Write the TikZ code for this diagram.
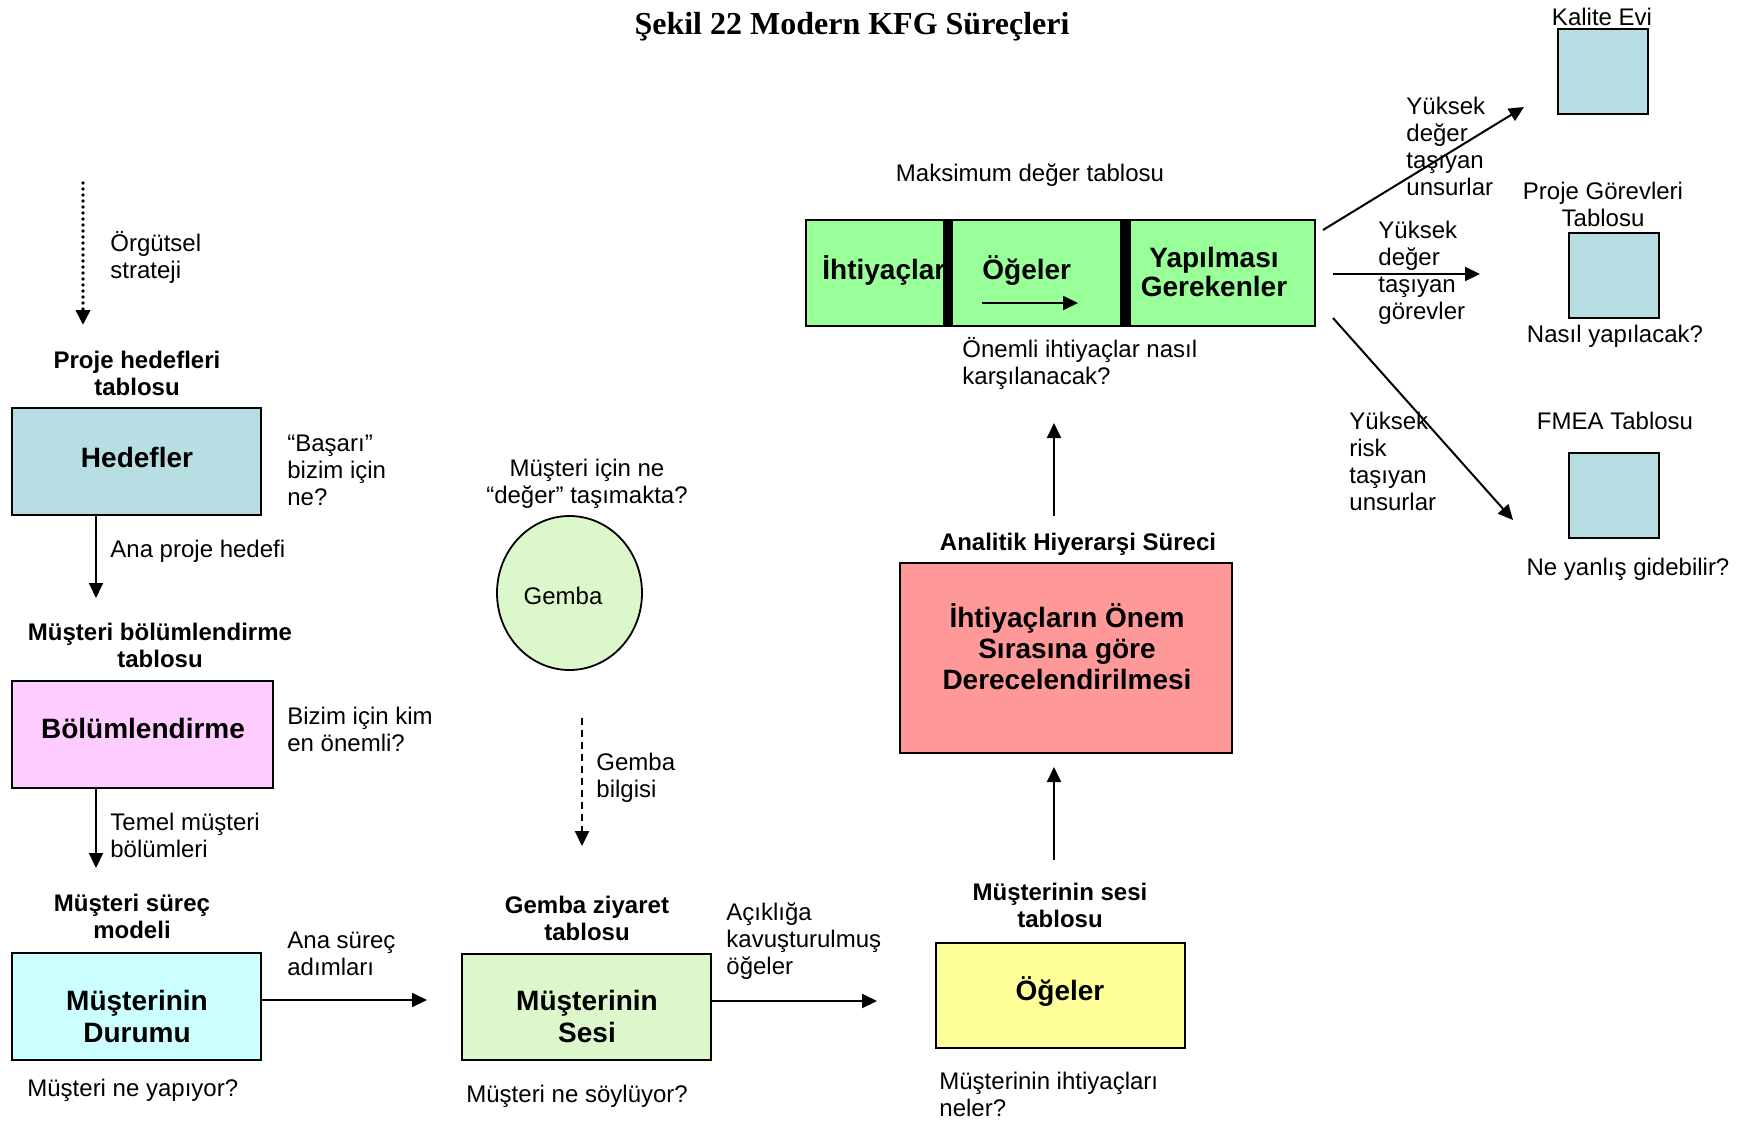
\documentclass[tikz,border=0pt]{standalone}
\usepackage{fontspec}
\setmainfont{Liberation Sans}
\newfontfamily\titlefont{Liberation Serif}
\usetikzlibrary{arrows.meta,shapes.geometric}

\definecolor{goalblue}{HTML}{B7DEE2}
\definecolor{segpink}{HTML}{FFCCFF}
\definecolor{statecyan}{HTML}{CCFFFF}
\definecolor{palegreen}{HTML}{DDF7CC}
\definecolor{tablegreen}{HTML}{99FF99}
\definecolor{ahpred}{HTML}{FF9999}
\definecolor{itemyellow}{HTML}{FFFF99}

\tikzset{
  lbl/.style={inner sep=0pt, yshift=-1pt, font=\fontsize{12}{13.5}\selectfont,
    execute at begin node=\strut, execute at end node=\strut},
  lblL/.style={lbl, align=left, anchor=west},
  lblC/.style={lbl, align=center},
  hdr/.style={lbl, align=center, font=\fontsize{12}{13.5}\selectfont\bfseries},
  box/.style={draw, line width=0.9pt, inner sep=0pt},
  boxtxt/.style={inner sep=0pt, yshift=-1pt, align=center,
    font=\fontsize{14}{16}\selectfont\bfseries,
    execute at begin node=\strut, execute at end node=\strut},
  arr/.style={line width=1pt, -{Triangle[length=7.5pt,width=7pt]}},
  dotarr/.style={arr, line width=1.8pt, line cap=round, dash pattern=on 0pt off 3pt},
  dasharr/.style={arr, line width=1.2pt, dash pattern=on 3.5pt off 2.5pt},
}

\begin{document}
\begin{tikzpicture}[x=0.5pt,y=-0.5pt]
\useasboundingbox (0,0) rectangle (1746,1124);

% title
\node[inner sep=0pt, font=\titlefont\fontsize{16}{18}\selectfont\bfseries] (title) at (852,27) {Şekil 22 Modern KFG Süreçleri};

% ---------- left column ----------
\node[lblL] (strat) at (110,257) {Örgütsel\\strateji};
\node[hdr] (hedH) at (137,375) {Proje hedefleri\\tablosu};
\node[box, fill=goalblue, minimum width=124.5pt, minimum height=53.5pt] (hed) at (136.5,461.5) {};
\node[boxtxt] (hedT) at (137,459) {Hedefler};
\node[lblL] (hedQ) at (287,472) {“Başarı”\\bizim için\\ne?};
\node[lblL] (hedA) at (110,550) {Ana proje hedefi};

\node[hdr] (bolH) at (160,647) {Müşteri bölümlendirme\\tablosu};
\node[box, fill=segpink, minimum width=130.5pt, minimum height=53.5pt] (bol) at (142.5,734.5) {};
\node[boxtxt] (bolT) at (143,730) {Bölümlendirme};
\node[lblL] (bolQ) at (287,731) {Bizim için kim\\en önemli?};
\node[lblL] (bolA) at (110,837) {Temel müşteri\\bölümleri};

\node[hdr] (durH) at (132,918) {Müşteri süreç\\modeli};
\node[box, fill=statecyan, minimum width=124.5pt, minimum height=53.5pt] (dur) at (136.5,1006.5) {};
\node[boxtxt] (durT) at (137,1019) {Müşterinin\\Durumu};
\node[lblL] (durA) at (287,956) {Ana süreç\\adımları};
\node[lblL] (durQ) at (27,1089) {Müşteri ne yapıyor?};

% ---------- Gemba column ----------
\node[lblC] (gemQ) at (587,483) {Müşteri için ne\\“değer” taşımakta?};
\node[ellipse, draw, line width=0.9pt, fill=palegreen, inner sep=0pt,
      minimum width=72.5pt, minimum height=77pt] (gem) at (569.5,593) {};
\node[lblC] (gemT) at (563,597) {Gemba};
\node[lblL] (gemA) at (596,777) {Gemba\\bilgisi};

\node[hdr] (sesH) at (587,920) {Gemba ziyaret\\tablosu};
\node[box, fill=palegreen, minimum width=124.5pt, minimum height=53pt] (ses) at (586.5,1007) {};
\node[boxtxt] (sesT) at (587,1019) {Müşterinin\\Sesi};
\node[lblL] (sesA) at (726,941) {Açıklığa\\kavuşturulmuş\\öğeler};
\node[lblL] (sesQ) at (466,1095) {Müşteri ne söylüyor?};

% ---------- voice of customer / AHP column ----------
\node[hdr] (vocH) at (1060,907) {Müşterinin sesi\\tablosu};
\node[box, fill=itemyellow, minimum width=124.5pt, minimum height=52.5pt] (voc) at (1060.5,995.5) {};
\node[boxtxt] (vocT) at (1060,991) {Öğeler};
\node[lblL] (vocQ) at (939,1096) {Müşterinin ihtiyaçları\\neler?};

\node[hdr] (ahpH) at (1078,543) {Analitik Hiyerarşi Süreci};
\node[box, fill=ahpred, minimum width=166pt, minimum height=95pt] (ahp) at (1066,658) {};
\node[boxtxt, font=\fontsize{14}{15.5}\selectfont\bfseries] (ahpT) at (1067,649)
  {İhtiyaçların Önem\\Sırasına göre\\Derecelendirilmesi};

% ---------- maximum value table ----------
\node[lblC] (mvH) at (1030,174) {Maksimum değer tablosu};
\node[box, fill=tablegreen, minimum width=254.5pt, minimum height=53pt] (mv) at (1060.5,273) {};
\node[boxtxt, anchor=west] (mvA) at (822,270) {İhtiyaçlar};
\node[boxtxt, anchor=west] (mvB) at (982,270) {Öğeler};
\node[boxtxt, font=\fontsize{14}{14.5}\selectfont\bfseries] (mvC) at (1214,274.5) {Yapılması\\Gerekenler};
\fill (942.5,220) rectangle (953,326);
\fill (1120,220) rectangle (1131,326);
\coordinate (m0) at (982,303);
\coordinate (m1) at (1078,303);
\draw[arr] (m0) -- (m1);
\node[lblL] (mvQ) at (962,363) {Önemli ihtiyaçlar nasıl\\karşılanacak?};

% ---------- follow-up tables ----------
\node[lblC] (qfdH) at (1602,18) {Kalite Evi};
\node[box, fill=goalblue, minimum width=45pt, minimum height=42.5pt] (qfd) at (1603,71.5) {};
\node[lblL] (qfdA) at (1406,148) {Yüksek\\değer\\taşıyan\\unsurlar};

\node[lblC] (ptH) at (1603,206) {Proje Görevleri\\Tablosu};
\node[box, fill=goalblue, minimum width=45pt, minimum height=42.5pt] (pt) at (1614,275.5) {};
\node[lblL] (ptA) at (1378,272) {Yüksek\\değer\\taşıyan\\görevler};
\node[lblC] (ptQ) at (1615,335) {Nasıl yapılacak?};

\node[lblC] (fmH) at (1615,422) {FMEA Tablosu};
\node[box, fill=goalblue, minimum width=45pt, minimum height=42.5pt] (fm) at (1614,495.5) {};
\node[lblL] (fmA) at (1349,463) {Yüksek\\risk\\taşıyan\\unsurlar};
\node[lblC] (fmQ) at (1628,568) {Ne yanlış gidebilir?};

% ---------- connectors ----------
\coordinate (d0) at (83,183);
\coordinate (d1) at (83,325);
\draw[dotarr] (d0) -- (d1);

\coordinate (t1) at (96,598);
\draw[arr] (hed.south -| t1) -- (t1);
\coordinate (t2) at (96,868);
\draw[arr] (bol.south -| t2) -- (t2);
\coordinate (t3) at (427,1000);
\draw[arr] (dur.east |- t3) -- (t3);

\coordinate (g0) at (582,718);
\coordinate (g1) at (582,846);
\draw[dasharr] (g0) -- (g1);

\coordinate (t4) at (877,1001);
\draw[arr] (ses.east |- t4) -- (t4);

\coordinate (u0) at (1054,860);
\coordinate (u1) at (1054,767);
\draw[arr] (u0) -- (u1);
\coordinate (u2) at (1054,516);
\coordinate (u3) at (1054,423);
\draw[arr] (u2) -- (u3);

\coordinate (k0) at (1323,230);
\coordinate (k1) at (1524,107);
\draw[arr] (k0) -- (k1);
\coordinate (p0) at (1333,274);
\coordinate (p1) at (1480,274);
\draw[arr] (p0) -- (p1);
\coordinate (f0) at (1333,318);
\coordinate (f1) at (1513,520);
\draw[arr] (f0) -- (f1);
\end{tikzpicture}
\end{document}
